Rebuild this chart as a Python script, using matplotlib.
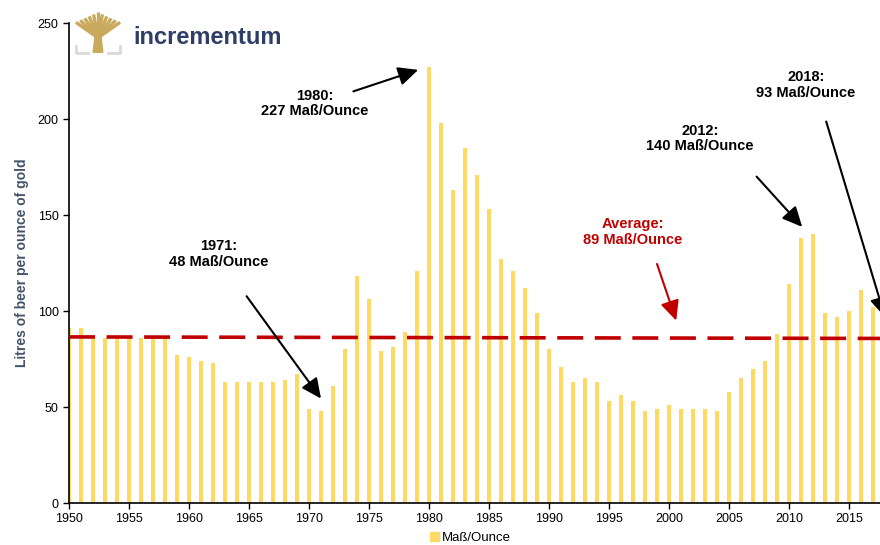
import matplotlib.pyplot as plt
import numpy as np
from matplotlib.patches import Patch, Polygon

plt.rcParams['font.family'] = ['Liberation Sans', 'DejaVu Sans']

years = np.arange(1950, 2019)
beer_per_ounce = [
    91, 91, 86, 86, 86, 86, 86, 86, 86, 77,
    76, 74, 73, 63, 63, 63, 63, 63, 64, 67,
    49, 48, 61, 80, 118, 106, 79, 81, 89, 121,
    227, 198, 163, 185, 171, 153, 127, 121, 112, 99,
    80, 71, 63, 65, 63, 53, 56, 53, 48, 49,
    51, 49, 49, 49, 48, 58, 65, 70, 74, 88,
    114, 138, 140, 99, 97, 100, 111, 102, 93,
]
avg_years = [1950, 2018]
avg_values = [86.5, 85.7]

notes = [
    ("1980:\n227 Maß/Ounce", (1970.5, 208), (1973.7, 214.4), (1979.1, 225.6), 'black'),
    ("1971:\n48 Maß/Ounce", (1962.5, 129.7), (1964.8, 107.7), (1971.0, 54.4), 'black'),
    ("Average:\n89 Maß/Ounce", (1997.0, 141.2), (1999.0, 124.5), (2000.6, 95.0), '#C00000'),
    ("2012:\n140 Maß/Ounce", (2002.6, 189.9), (2007.3, 170.0), (2011.1, 143.8), 'black'),
    ("2018:\n93 Maß/Ounce", (2011.4, 217.6), (2013.1, 198.7), (2018.0, 96.8), 'black'),
]

W, H = 880, 545
fig = plt.figure(figsize=(8.8, 5.45), dpi=100)
ax = fig.add_axes([69 / W, 1 - 503 / H, 1 - 69 / W, (503 - 23) / H])

ax.bar(years, beer_per_ounce, width=0.28, color='#FFD966', zorder=2)
ax.plot(avg_years, avg_values, color='#C00000', lw=2.6, dashes=(7.2, 3.2), zorder=3)

ax.set_xlim(1950, 1950 + (W - 69) / 12.0)
ax.set_ylim(0, 250)
ax.set_xticks(np.arange(1950, 2016, 5))
ax.set_yticks(np.arange(0, 251, 50))
ax.tick_params(labelsize=9, direction='out', length=4, width=1, colors='black')
for s in ['top', 'right']:
    ax.spines[s].set_visible(False)
ax.spines['left'].set_linewidth(1.2)
ax.spines['bottom'].set_linewidth(1.2)
ax.set_ylabel('Litres of beer per ounce of gold', fontsize=10, fontweight='bold',
              color='#44546A', labelpad=6)

for text, txy, tail, tip, col in notes:
    ax.text(txy[0], txy[1], text, ha='center', va='center', fontsize=10.5,
            fontweight='bold', color=col, linespacing=1.15)
    ax.annotate('', xy=tip, xytext=tail, annotation_clip=False,
                arrowprops=dict(arrowstyle='-|>,head_length=0.55,head_width=0.26',
                                mutation_scale=22, lw=1.5,
                                color=col, shrinkA=0, shrinkB=0))

fig.legend(handles=[Patch(color='#FFD966', label='Maß/Ounce')], loc='center',
           bbox_to_anchor=(470 / W, 1 - 538 / H), frameon=False, fontsize=9.5,
           handlelength=0.7, handleheight=0.7, handletextpad=0.2)

# logo
lg = fig.add_axes([74 / W, 1 - 58 / H, 48 / W, 48 / H])
lg.set_xlim(0, 1)
lg.set_ylim(0, 1)
lg.axis('off')
gold = '#C9A95C'
lg.add_patch(Polygon([[0.40, 0.12], [0.60, 0.12], [0.56, 0.48], [0.44, 0.48]], color=gold))
for x_end in np.linspace(0.04, 0.96, 11):
    y_end = 0.95 - 0.45 * abs(x_end - 0.5)
    lg.plot([0.5, x_end], [0.42, y_end], color=gold, lw=2.4, solid_capstyle='butt')
lg.plot([0.05, 0.05, 0.3], [0.25, 0.1, 0.1], color='#D9D9D9', lw=2)
lg.plot([0.7, 0.95, 0.95], [0.1, 0.1, 0.25], color='#D9D9D9', lw=2)
fig.text(133 / W, 1 - 37 / H, 'incrementum', fontsize=17, fontweight='bold',
         color='#2E3E66', va='center', ha='left')

fig.savefig('out.png', dpi=100)
